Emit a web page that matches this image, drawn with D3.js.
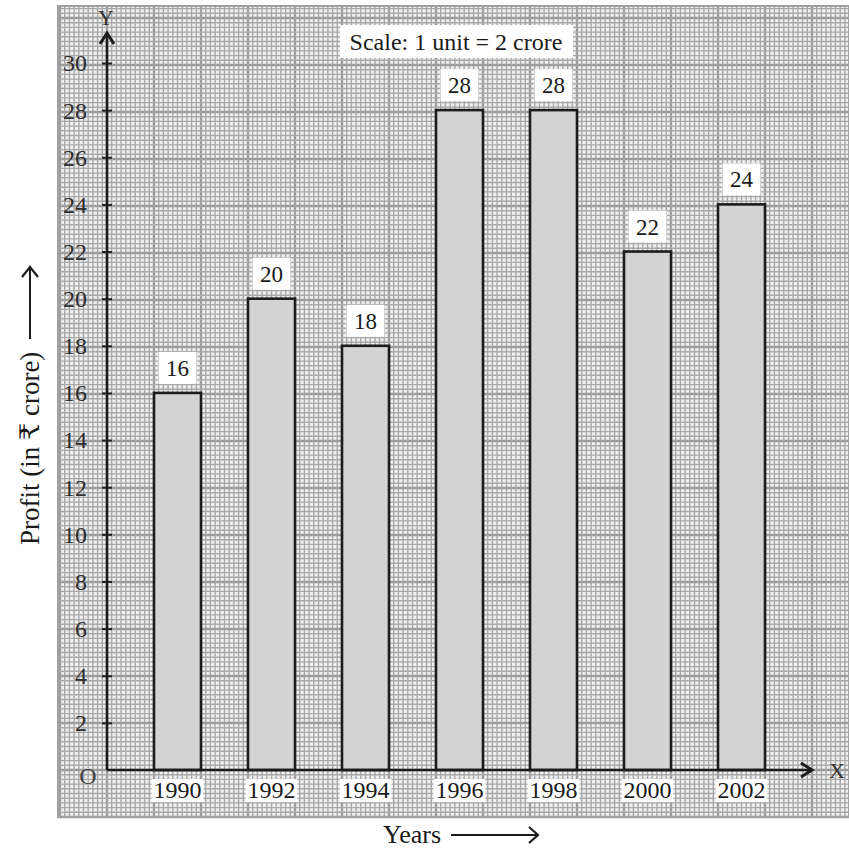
<!DOCTYPE html>
<html>
<head>
<meta charset="utf-8">
<script src="https://cdn.jsdelivr.net/npm/d3@7"></script>
<style>
  html, body { margin: 0; padding: 0; background: #fff; }
  svg { display: block; }
  text { font-family: "Liberation Serif", "DejaVu Serif", serif; }
</style>
</head>
<body>
<svg id="chart" width="849" height="852"></svg>
<script>
// Profit per year, in crore rupees
const years = ["1990", "1992", "1994", "1996", "1998", "2000", "2002"];
const profits = [16, 20, 18, 28, 28, 22, 24];
const yTicks = [2, 4, 6, 8, 10, 12, 14, 16, 18, 20, 22, 24, 26, 28, 30];
const scaleNote = "Scale: 1 unit = 2 crore";
const yTitle = "Profit (in ₹ crore)";
const xTitle = "Years";

const svg = d3.select("#chart");

const x = d3.scaleBand().domain(years).range([107, 812])
  .paddingInner(0.5).paddingOuter(0.5);
const y = d3.scaleLinear().domain([0, 30]).range([770, 63]);

const originX = 107, originY = y(0);
const major = x.bandwidth();          // one big square of the graph paper
const minor = major / 10;

// graph paper
const paper = { x0: 57, y0: 5, x1: 849, y1: 817 };
svg.append("rect")
  .attr("x", paper.x0).attr("y", paper.y0)
  .attr("width", paper.x1 - paper.x0).attr("height", paper.y1 - paper.y0)
  .attr("fill", "#efefef");

const grid = svg.append("g");
function linesAlong(start, end, step, anchor) {
  const out = [];
  let k = Math.ceil((start - anchor) / step);
  for (let p = anchor + k * step; p <= end + 0.01; p = anchor + (++k) * step) out.push({ p, k });
  return out;
}
const vLines = linesAlong(paper.x0, paper.x1, minor, originX);
const hLines = linesAlong(paper.y0, paper.y1, minor, originY);
grid.selectAll("line.v").data(vLines).join("line")
  .attr("x1", d => d.p).attr("x2", d => d.p)
  .attr("y1", paper.y0).attr("y2", paper.y1)
  .attr("stroke", d => d.k % 10 === 0 ? "#9e9e9e" : "#a9a9a9")
  .attr("stroke-width", d => d.k % 10 === 0 ? 2.4 : 1.4);
grid.selectAll("line.h").data(hLines).join("line")
  .attr("x1", paper.x0).attr("x2", paper.x1)
  .attr("y1", d => d.p).attr("y2", d => d.p)
  .attr("stroke", d => d.k % 10 === 0 ? "#9e9e9e" : "#a9a9a9")
  .attr("stroke-width", d => d.k % 10 === 0 ? 2.4 : 1.4);
// paper border
svg.append("rect")
  .attr("x", paper.x0 + 1).attr("y", paper.y0 + 1)
  .attr("width", paper.x1 - paper.x0 - 1).attr("height", paper.y1 - paper.y0 - 1)
  .attr("fill", "none").attr("stroke", "#a0a0a0").attr("stroke-width", 2);

// bars
svg.append("g").selectAll("rect").data(years).join("rect")
  .attr("x", d => x(d))
  .attr("y", (d, i) => y(profits[i]))
  .attr("width", x.bandwidth())
  .attr("height", (d, i) => originY - y(profits[i]))
  .attr("fill", "#d3d3d3")
  .attr("stroke", "#1c1c1c")
  .attr("stroke-width", 2.6);

// value labels on white tags
const valG = svg.append("g").selectAll("g").data(years).join("g")
  .attr("transform", (d, i) => `translate(${x(d) + x.bandwidth() / 2},${y(profits[i]) - 9})`);
valG.append("rect")
  .attr("x", -19).attr("y", -32).attr("width", 38).attr("height", 32)
  .attr("fill", "#fff");
valG.append("text")
  .attr("text-anchor", "middle").attr("y", -8)
  .attr("font-size", 23).attr("fill", "#1a1a1a")
  .text((d, i) => profits[i]);

// y axis with ticks crossing the line
const yAxis = svg.append("g")
  .attr("transform", `translate(${originX},0)`)
  .call(d3.axisLeft(y).tickValues(yTicks).tickSize(5).tickPadding(15));
yAxis.select(".domain").remove();
yAxis.selectAll(".tick line").attr("x1", 5).attr("stroke", "#222").attr("stroke-width", 2);
yAxis.selectAll(".tick text")
  .attr("font-family", "Liberation Serif, DejaVu Serif, serif")
  .attr("font-size", 24).attr("fill", "#2e2e2e").attr("dy", "0.33em");

// axis lines with arrowheads
const axisStroke = { stroke: "#1c1c1c", width: 2.6 };
svg.append("line")
  .attr("x1", originX).attr("y1", originY).attr("x2", originX).attr("y2", 34)
  .attr("stroke", axisStroke.stroke).attr("stroke-width", axisStroke.width);
svg.append("path")
  .attr("d", `M${originX - 7},${44} L${originX},${33} L${originX + 7},${44}`)
  .attr("fill", "none").attr("stroke", axisStroke.stroke).attr("stroke-width", 3)
  .attr("stroke-linejoin", "miter");
svg.append("line")
  .attr("x1", originX).attr("y1", originY).attr("x2", 811).attr("y2", originY)
  .attr("stroke", axisStroke.stroke).attr("stroke-width", axisStroke.width);
svg.append("path")
  .attr("d", `M${801},${originY - 7} L${812},${originY} L${801},${originY + 7}`)
  .attr("fill", "none").attr("stroke", axisStroke.stroke).attr("stroke-width", 3);

// axis letters
svg.append("text").attr("x", originX - 1).attr("y", 25).attr("text-anchor", "middle")
  .attr("font-size", 22).attr("fill", "#333").text("Y");
svg.append("text").attr("x", 837).attr("y", 778).attr("text-anchor", "middle")
  .attr("font-size", 22).attr("fill", "#333").text("X");
svg.append("text").attr("x", 88).attr("y", 784).attr("text-anchor", "middle")
  .attr("font-size", 24).attr("fill", "#444").text("O");

// year labels on white tags under the axis
const yearG = svg.append("g").selectAll("g").data(years).join("g")
  .attr("transform", d => `translate(${x(d) + x.bandwidth() / 2},${originY})`);
yearG.append("rect")
  .attr("x", -26).attr("y", 9).attr("width", 52).attr("height", 23)
  .attr("fill", "#fff");
yearG.append("text")
  .attr("text-anchor", "middle").attr("y", 28)
  .attr("font-size", 24).attr("fill", "#1a1a1a")
  .text(d => d);

// scale note
const noteG = svg.append("g").attr("transform", "translate(456,0)");
noteG.append("rect").attr("x", -116).attr("y", 25).attr("width", 233).attr("height", 33)
  .attr("fill", "#fff");
noteG.append("text").attr("text-anchor", "middle").attr("y", 50)
  .attr("font-size", 24).attr("fill", "#1a1a1a").text(scaleNote);

// axis titles with arrows
const yt = svg.append("g").attr("transform", "translate(39,545) rotate(-90)");
yt.append("text").attr("x", 0).attr("y", 0)
  .attr("font-size", 27).attr("fill", "#1a1a1a").text(yTitle);
yt.append("line").attr("x1", 206).attr("x2", 277).attr("y1", -9).attr("y2", -9)
  .attr("stroke", "#1c1c1c").attr("stroke-width", 2);
yt.append("path").attr("d", `M${268},${-17} L${278},${-9} L${268},${-1}`)
  .attr("fill", "none").attr("stroke", "#1c1c1c").attr("stroke-width", 2.2);

const xt = svg.append("g").attr("transform", "translate(383,843)");
xt.append("text").attr("font-size", 26).attr("fill", "#1a1a1a").text(xTitle);
xt.append("line").attr("x1", 68).attr("x2", 538 - 383).attr("y1", -8).attr("y2", -8)
  .attr("stroke", "#1c1c1c").attr("stroke-width", 2);
xt.append("path").attr("d", `M${538 - 383 - 9},${-16} L${538 - 383},${-8} L${538 - 383 - 9},${0}`)
  .attr("fill", "none").attr("stroke", "#1c1c1c").attr("stroke-width", 2.2);
</script>
</body>
</html>
